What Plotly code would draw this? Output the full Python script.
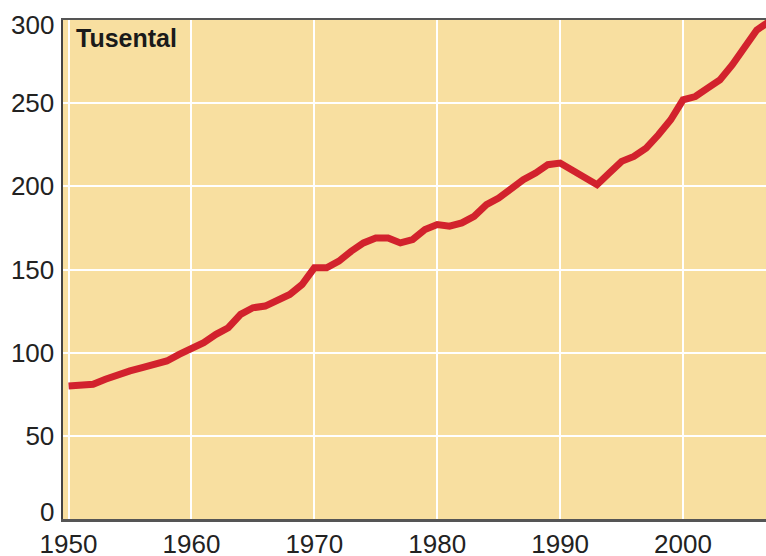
import plotly.graph_objects as go

years = list(range(1950, 2008))
values = [80, 80, 81, 84, 87, 89, 91, 93, 95, 99,
          102, 106, 111, 115, 123, 127, 128, 131, 135, 141,
          151, 151, 155, 161, 166, 169, 169, 166, 168, 174,
          177, 176, 178, 182, 189, 193, 199, 204, 208, 213,
          214, 210, 206, 201, 208, 215, 218, 223, 231, 240,
          252, 254, 259, 264, 273, 283, 294, 299]

x_ticks = [1950, 1960, 1970, 1980, 1990, 2000]
y_ticks = [0, 50, 100, 150, 200, 250, 300]
y_ticktext = ["", "50", "100", "150", "200", "250", ""]
y_edge_labels = [(0, "0", 7), (300, "300", -5)]
unit_label = "Tusental"

fig = go.Figure()
fig.add_trace(go.Scatter(
    x=years, y=values, mode="lines",
    line=dict(color="#d2222d", width=7, shape="linear"),
    hoverinfo="skip", showlegend=False,
))

font = dict(family="Liberation Sans, Arial, sans-serif", size=26, color="#222222")

annotations = [dict(
    text="<b>" + unit_label + "</b>", xref="paper", yref="paper",
    x=0.016, y=0.995, xanchor="left", yanchor="top",
    showarrow=False, font=dict(family="Liberation Sans, Arial, sans-serif", size=25, color="#1a1a1a"),
)]
for val, txt, shift in y_edge_labels:
    annotations.append(dict(
        text=txt, xref="paper", yref="y", x=0, y=val,
        xanchor="right", yanchor="middle", xshift=-7, yshift=shift,
        showarrow=False, font=font,
    ))

fig.update_layout(
    width=766, height=556,
    margin=dict(l=63, r=0, t=20, b=37, autoexpand=False),
    paper_bgcolor="white",
    plot_bgcolor="#f8dfa0",
    font=font,
    showlegend=False,
    xaxis=dict(
        range=[1949.55, 2006.75],
        tickmode="array", tickvals=x_ticks,
        showgrid=True, gridcolor="white", gridwidth=2,
        showline=True, linecolor="#555555", linewidth=2.5, mirror=True,
        ticks="", zeroline=False, automargin=False,
        tickfont=font, ticklabeloverflow="allow",
        ticklabelstandoff=0,
    ),
    yaxis=dict(
        range=[0, 300],
        tickmode="array", tickvals=y_ticks, ticktext=y_ticktext,
        showgrid=True, gridcolor="white", gridwidth=2,
        showline=True, linecolor="#444444", linewidth=2.5,
        ticks="", zeroline=False, automargin=False,
        tickfont=font, ticklabeloverflow="allow",
        ticklabelstandoff=1,
    ),
    annotations=annotations,
)

# remove the default 8px page margin so the figure fills the window exactly
fig.write_html(
    "out.html",
    config={"displayModeBar": False, "staticPlot": True},
    post_script="document.body.style.margin='0';document.body.style.overflow='hidden';",
)
